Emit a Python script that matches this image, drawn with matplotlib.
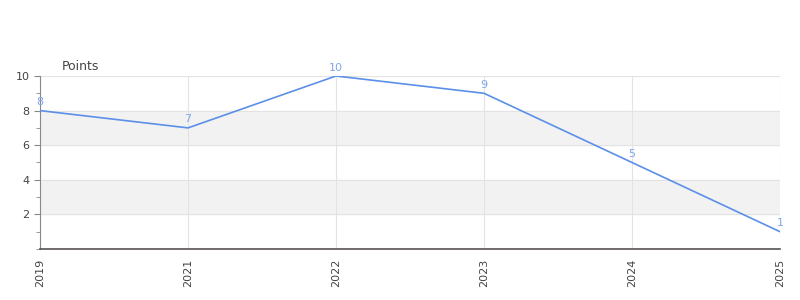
import numpy as np
import matplotlib.pyplot as plt
from matplotlib.ticker import MultipleLocator

years = ['2019', '2021', '2022', '2023', '2024', '2025']
points = [8, 7, 10, 9, 5, 1]

fig = plt.figure(figsize=(8, 3), dpi=100)
ax = fig.add_axes([0.05, 0.17, 0.925, 0.5767])

x = np.arange(len(years))

# alternating bands
for lo, hi in [(2, 4), (6, 8)]:
    ax.axhspan(lo, hi, color='#f2f2f2', zorder=0)

ax.plot(x, points, color='#5b8fe8', linewidth=1.2, zorder=3)
for xi, v in zip(x, points):
    ax.annotate(str(v), (xi, v), xytext=(0, 2.5), textcoords='offset points',
                ha='center', va='bottom', fontsize=8, color='#7fa6ee', zorder=4)

ax.set_xlim(0, len(years) - 1)
ax.set_ylim(0, 10)
ax.set_xticks(x)
ax.set_xticklabels(years, rotation=90)
ax.set_yticks([2, 4, 6, 8, 10])
ax.yaxis.set_minor_locator(MultipleLocator(1))

ax.grid(True, which='major', color='#e3e3e3', linewidth=0.8, zorder=1)
ax.set_axisbelow(True)

for s in ['top', 'right']:
    ax.spines[s].set_visible(False)
ax.spines['left'].set_color('#888888')
ax.spines['bottom'].set_color('#555555')
ax.spines['bottom'].set_linewidth(1.2)
ax.axhline(0, color='#cc2222', linewidth=0.8, zorder=5)

ax.tick_params(axis='both', colors='#888888', labelcolor='#444444', labelsize=8, length=4)
ax.tick_params(axis='x', length=0, pad=7)
ax.tick_params(axis='y', which='minor', length=3, colors='#888888')

ax.text(0.03, 1.02, 'Points', transform=ax.transAxes, fontsize=9, color='#444444',
        ha='left', va='bottom')

fig.savefig('out.png', dpi=100)
